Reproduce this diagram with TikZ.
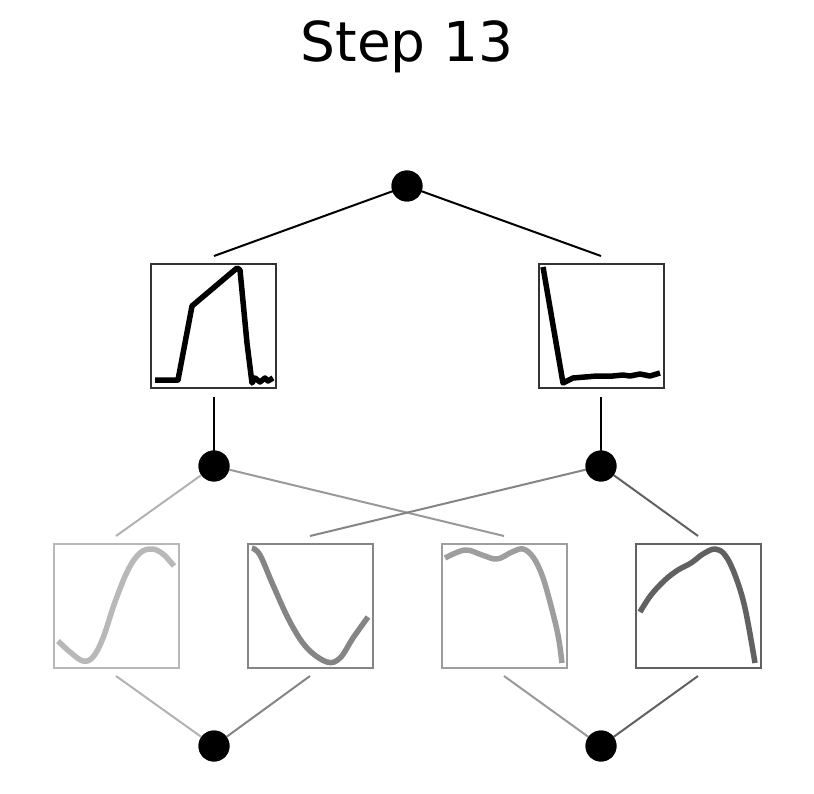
\documentclass[tikz,border=0pt]{standalone}
\usepackage{fontspec}
\setmainfont{DejaVu Sans}
\begin{document}
\begin{tikzpicture}[x=1pt,y=-1pt,
  dot/.style={circle,fill=black,inner sep=0pt,minimum size=31pt},
  panel/.style={draw=#1,line width=1.5pt,minimum width=125pt,minimum height=124pt,inner sep=0pt},
  curve/.style={line width=5.5pt,line join=round,color=#1},
  link/.style={line width=2pt,color=#1}]
\useasboundingbox (0,0) rectangle (814,794);

% title
\node[anchor=base] (title) at (407,62) {\fontsize{55}{60}\selectfont Step 13};

% nodes
\node[dot] (top) at (407,186) {};
\node[dot] (m1) at (214,466) {};
\node[dot] (m2) at (601,466) {};
\node[dot] (b1) at (214,746) {};
\node[dot] (b2) at (601,746) {};

% first-layer panels
\node[panel=black!80] (p1) at (213.5,326) {};
\node[panel=black!80] (p2) at (601.5,326) {};
% second-layer panels
\node[panel=black!28] (q1) at (116.5,606) {};
\node[panel=black!48] (q2) at (310.5,606) {};
\node[panel=black!38] (q3) at (504.5,606) {};
\node[panel=black!62] (q4) at (698.5,606) {};

% connector ends
\coordinate (p1t) at (214,256); \coordinate (p1b) at (214,397);
\coordinate (p2t) at (601,256); \coordinate (p2b) at (601,397);
\coordinate (q1t) at (116,536); \coordinate (q1b) at (116,676);
\coordinate (q2t) at (310,536); \coordinate (q2b) at (310,676);
\coordinate (q3t) at (504,536); \coordinate (q3b) at (504,676);
\coordinate (q4t) at (698,536); \coordinate (q4b) at (698,676);

% connectors
\draw[link=black] (top.center) -- (p1t);
\draw[link=black] (top.center) -- (p2t);
\draw[link=black] (p1b) -- (m1.center);
\draw[link=black] (p2b) -- (m2.center);
\draw[link=black!30] (m1.center) -- (q1t);
\draw[link=black!40] (m1.center) -- (q3t);
\draw[link=black!48] (m2.center) -- (q2t);
\draw[link=black!62] (m2.center) -- (q4t);
\draw[link=black!30] (q1b) -- (b1.center);
\draw[link=black!48] (q2b) -- (b1.center);
\draw[link=black!40] (q3b) -- (b2.center);
\draw[link=black!62] (q4b) -- (b2.center);

% redraw dots on top of connectors
\foreach \n in {top,m1,m2,b1,b2} \fill (\n) circle (15.5pt);

% curves in first-layer panels
\draw[curve=black] (155,380) -- (178,380) -- (192,306) -- (237,268) -- (240,270)
  -- (247,343) -- (252,383) -- (255,378) -- (260,382) -- (265,378) -- (268,381) -- (273,378);
\draw[curve=black] (543,267) -- (563,383) -- (573,378) -- (597,376) -- (613,376)
  -- (623,375) -- (630,376) -- (640,374) -- (650,376) -- (660,373);

% curves in second-layer panels
\draw[curve=black!28] plot[smooth,tension=0.6] coordinates {(58,641) (70,652) (83,661) (93,657)
  (103,638) (115,602) (128,570) (140,553) (152,549) (163,554) (174,566)};
\draw[curve=black!48] plot[smooth,tension=0.6] coordinates {(252,548) (260,555) (273,585) (290,622)
  (307,648) (327,662) (340,658) (353,638) (368,617)};
\draw[curve=black!38] plot[smooth,tension=0.6] coordinates {(445,558) (465,550) (482,555) (497,559)
  (512,552) (523,549) (533,557) (542,575) (550,602) (558,635) (562,663)};
\draw[curve=black!62] plot[smooth,tension=0.6] coordinates {(640,612) (651,595) (665,580) (678,570)
  (691,563) (703,554) (715,549) (725,555) (735,575) (745,608) (755,663)};
\end{tikzpicture}
\end{document}
